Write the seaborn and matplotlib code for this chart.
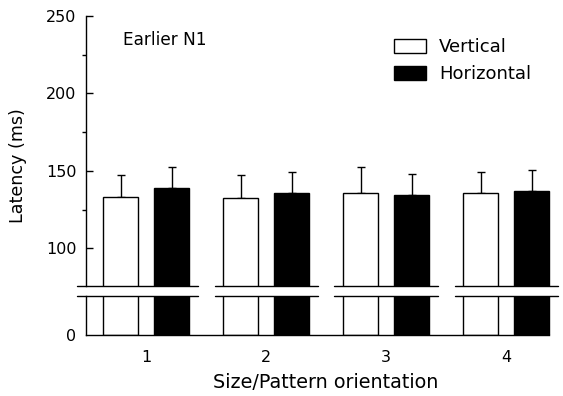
import numpy as np
import pandas as pd
import matplotlib
matplotlib.use("Agg")
import matplotlib.pyplot as plt
import seaborn as sns
from matplotlib.patches import Patch
from matplotlib.ticker import FixedLocator

# ---- data ----
groups = ["1", "2", "3", "4"]
orientations = ["Vertical", "Horizontal"]
vertical_mean = [133.0, 132.5, 135.5, 135.5]
horizontal_mean = [139.0, 136.0, 134.5, 137.0]
vertical_sd = [14.5, 15.0, 17.0, 13.5]
horizontal_sd = [13.5, 13.0, 13.5, 13.5]

df = pd.DataFrame({
    "group": groups * 2,
    "orientation": [orientations[0]] * 4 + [orientations[1]] * 4,
    "latency": vertical_mean + horizontal_mean,
    "sd": vertical_sd + horizontal_sd,
})

sns.set_theme(style="white")
plt.rcParams["font.family"] = ["DejaVu Sans"]
FS = 11.5

W, H = 563, 396
fig = plt.figure(figsize=(W / 100, H / 100), dpi=100)

def fx(px):
    return px / W

def fy(py):
    return 1 - py / H

left, right = 86, 558
ax_top = fig.add_axes([fx(left), fy(286), fx(right - left), fy(16) - fy(286)])
ax_bot = fig.add_axes([fx(left), fy(335), fx(right - left), fy(296) - fy(335)])

palette = {"Vertical": "white", "Horizontal": "black"}
for ax in (ax_top, ax_bot):
    sns.barplot(data=df, x="group", y="latency", hue="orientation",
                hue_order=orientations, order=groups, palette=palette,
                edgecolor="black", linewidth=1.0, width=0.85, gap=0.325,
                errorbar=None, legend=False, ax=ax, zorder=2)
    ax.set_xlim(-0.5, (right - 146) / 120)
    ax.set_xlabel("")
    ax.set_ylabel("")
    for s in ("top", "right"):
        ax.spines[s].set_visible(False)
    ax.spines["left"].set_linewidth(1.0)
    ax.spines["left"].set_color("black")

# error bars (upper only) using bar patch positions
sd_lookup = {(r.orientation, r.group): r.sd for r in df.itertuples()}
for patch, (ori, g) in zip(ax_top.patches,
                          [(o, g) for o in orientations for g in groups]):
    xc = patch.get_x() + patch.get_width() / 2
    yv = patch.get_height()
    ax_top.errorbar([xc], [yv], yerr=[[0], [sd_lookup[(ori, g)]]],
                    fmt="none", ecolor="black", elinewidth=1.0,
                    capsize=2.6, capthick=1.0, zorder=1)

# upper axes
ax_top.set_ylim(75.7, 250)
ax_top.spines["bottom"].set_visible(False)
ax_top.set_xticks([])
ax_top.yaxis.set_major_locator(FixedLocator([100, 150, 200, 250]))
ax_top.yaxis.set_minor_locator(FixedLocator([125, 175, 225]))
ax_top.tick_params(axis="y", which="major", direction="in", length=5,
                   width=1.0, color="black", labelsize=FS, pad=7,
                   left=True, labelcolor="black")
ax_top.tick_params(axis="y", which="minor", direction="out", length=3,
                   width=1.0, color="black", left=True)

# lower axes
ax_bot.set_ylim(0, 25.1)
ax_bot.set_yticks([0])
ax_bot.tick_params(axis="y", which="major", direction="in", length=0,
                   labelsize=FS, pad=7, left=True, labelcolor="black")
ax_bot.tick_params(axis="x", length=0, labelsize=FS, pad=10.5, labelcolor="black")
ax_bot.spines["bottom"].set_linewidth(1.0)
ax_bot.spines["bottom"].set_color("black")
ax_bot.spines["bottom"].set_bounds(-0.5, 3 + 0.2125 + 0.1435)

# break lines
seg_edges = [(-0.575, 0.433), (0.575, 1.43), (1.57, 2.433), (2.575, 3.433)]
for x0, x1 in seg_edges:
    ax_top.plot([x0, x1], [0, 0], color="black", lw=1.0,
                transform=ax_top.get_xaxis_transform(), clip_on=False)
    ax_bot.plot([x0, x1], [1, 1], color="black", lw=1.0,
                transform=ax_bot.get_xaxis_transform(), clip_on=False)

# texts
ax_top.text(fx(123), fy(40), "Earlier N1", transform=fig.transFigure,
            fontsize=12.2, ha="left", va="center", color="black")
fig.text(fx(18), fy(166), "Latency (ms)", rotation=90, fontsize=12.6,
         ha="center", va="center", color="black")
fig.text(fx(325.5), fy(382), "Size/Pattern orientation", fontsize=13.8,
         ha="center", va="center", color="black")

LFS = 13
handles = [Patch(facecolor=palette[o], edgecolor="black", linewidth=1.0)
           for o in orientations]
fig.legend(handles, orientations, loc="upper left",
           bbox_to_anchor=(fx(394), fy(38.5)), frameon=False, fontsize=LFS,
           handlelength=32 / 18, handleheight=15 / 18, handletextpad=0.72,
           labelspacing=0.48, borderpad=0, borderaxespad=0,
           labelcolor="black")

fig.savefig("out.png", dpi=100)
